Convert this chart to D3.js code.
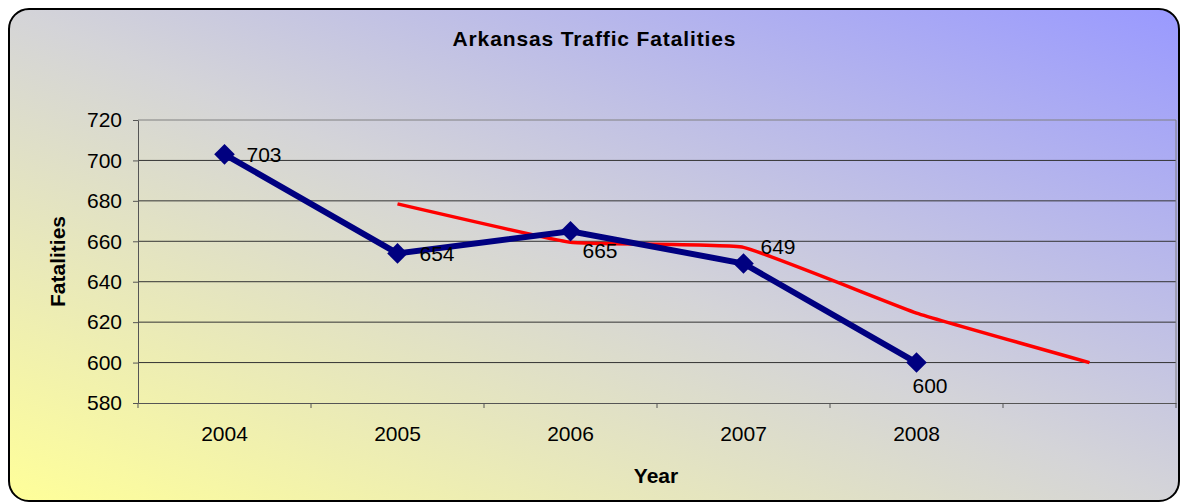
<!DOCTYPE html>
<html>
<head>
<meta charset="utf-8">
<script src="https://cdn.jsdelivr.net/npm/d3@7"></script>
<style>
  body { margin: 0; background: #fff; }
  text { font-family: Arial, "Liberation Sans", sans-serif; }
</style>
</head>
<body>
<script>
// data
var years = ["2004", "2005", "2006", "2007", "2008", ""];
var fatalities = [703, 654, 665, 649, 600, null];
var trend = [null, 678.5, 659.5, 657, 624.5, 600];
var yTicks = [580, 600, 620, 640, 660, 680, 700, 720];
// label offsets per point (dx, dy)
var labelDx = [22, 22, 12, 17, -4];
var labelDy = [0, 0, 19, -17, 23];

var width = 1182;
var height = 504;

var margin = { top: 120, bottom: 101, left: 138, right: 6 };

var svg = d3.select("body")
    .append("svg")
    .attr("width", width)
    .attr("height", height);

var defs = svg.append("defs");
var grad = defs.append("linearGradient")
    .attr("id", "bg")
    .attr("x1", "0%").attr("y1", "100%")
    .attr("x2", "100%").attr("y2", "0%");
grad.append("stop").attr("offset", "0%").attr("stop-color", "#ffff99");
grad.append("stop").attr("offset", "50%").attr("stop-color", "#d4d4d8");
grad.append("stop").attr("offset", "100%").attr("stop-color", "#9999ff");

svg.append("rect")
    .attr("x", 9).attr("y", 9)
    .attr("width", 1170).attr("height", 492)
    .attr("rx", 20).attr("ry", 20)
    .attr("fill", "url(#bg)")
    .attr("stroke", "#000")
    .attr("stroke-width", 2);

var plotW = width - margin.left - margin.right;
var plotH = height - margin.top - margin.bottom;

var g = svg.append("g")
    .attr("transform", "translate(" + margin.left + "," + margin.top + ")");

var x = d3.scaleBand()
    .domain(d3.range(years.length))
    .range([0, plotW]);

var y = d3.scaleLinear()
    .domain([580, 720])
    .range([plotH, 0]);

// gridlines
g.selectAll(".grid")
    .data(yTicks.slice(1))
    .enter().append("line")
    .attr("class", "grid")
    .attr("x1", 0).attr("x2", plotW)
    .attr("y1", function(d) { return y(d); })
    .attr("y2", function(d) { return y(d); })
    .attr("stroke", function(d) { return d == 720 ? "#808080" : "#333"; })
    .attr("stroke-width", 1);

// right edge of plot
g.append("line")
    .attr("x1", plotW).attr("x2", plotW)
    .attr("y1", 0).attr("y2", plotH)
    .attr("stroke", "#808080");

// y axis
var yAxis = g.append("g")
    .call(d3.axisLeft(y).tickValues(yTicks).tickSize(5).tickSizeOuter(0));
yAxis.select(".domain").attr("stroke", "#555");
yAxis.selectAll(".tick line").attr("stroke", "#555");
yAxis.selectAll("text")
    .attr("font-size", 21)
    .attr("fill", "#000")
    .attr("x", -16);

// x axis
var xAxis = g.append("g")
    .attr("transform", "translate(0," + plotH + ")")
    .call(d3.axisBottom(x).tickSize(0).tickFormat(function(i) { return years[i]; }));
xAxis.select(".domain").attr("stroke", "#555");
xAxis.selectAll("text")
    .attr("font-size", 21)
    .attr("fill", "#000")
    .attr("y", 31)
    .attr("dy", "0.35em");

g.selectAll(".xtick")
    .data(d3.range(years.length + 1))
    .enter().append("line")
    .attr("x1", function(i) { return i * x.step(); })
    .attr("x2", function(i) { return i * x.step(); })
    .attr("y1", plotH).attr("y2", plotH + 5)
    .attr("stroke", "#555");

function cx(i) { return x(i) + x.bandwidth() / 2; }

// trend line (lightly smoothed)
var trendLine = d3.line()
    .defined(function(d) { return d != null; })
    .x(function(d, i) { return cx(i); })
    .y(function(d) { return y(d); })
    .curve(d3.curveCardinal.tension(0.7));

g.append("path")
    .datum(trend)
    .attr("d", trendLine)
    .attr("fill", "none")
    .attr("stroke", "#ff0000")
    .attr("stroke-width", 3.5);

// main series
var mainLine = d3.line()
    .defined(function(d) { return d != null; })
    .x(function(d, i) { return cx(i); })
    .y(function(d) { return y(d); });

g.append("path")
    .datum(fatalities)
    .attr("d", mainLine)
    .attr("fill", "none")
    .attr("stroke", "#000080")
    .attr("stroke-width", 6);

var pts = fatalities.map(function(v, i) { return { v: v, i: i }; })
    .filter(function(d) { return d.v != null; });

g.selectAll(".marker")
    .data(pts)
    .enter().append("path")
    .attr("class", "marker")
    .attr("d", d3.symbol().type(d3.symbolDiamond2).size(270))
    .attr("transform", function(d) { return "translate(" + cx(d.i) + "," + y(d.v) + ")"; })
    .attr("fill", "#000080");

g.selectAll(".lbl")
    .data(pts)
    .enter().append("text")
    .attr("class", "lbl")
    .attr("x", function(d) { return cx(d.i) + labelDx[d.i]; })
    .attr("y", function(d) { return y(d.v) + labelDy[d.i]; })
    .attr("dy", "0.35em")
    .attr("font-size", 21)
    .attr("fill", "#000")
    .text(function(d) { return d.v; });

// titles
svg.append("text")
    .attr("x", 594).attr("y", 39)
    .attr("dy", "0.35em")
    .attr("text-anchor", "middle")
    .attr("font-size", 21)
    .attr("font-weight", "bold")
    .attr("textLength", 283)
    .attr("lengthAdjust", "spacing")
    .text("Arkansas Traffic Fatalities");

svg.append("text")
    .attr("x", 656).attr("y", 476)
    .attr("dy", "0.35em")
    .attr("text-anchor", "middle")
    .attr("font-size", 21)
    .attr("font-weight", "bold")
    .text("Year");

svg.append("text")
    .attr("transform", "translate(58," + (margin.top + plotH / 2) + ") rotate(-90)")
    .attr("dy", "0.35em")
    .attr("text-anchor", "middle")
    .attr("font-size", 21)
    .attr("font-weight", "bold")
    .text("Fatalities");
</script>
</body>
</html>
